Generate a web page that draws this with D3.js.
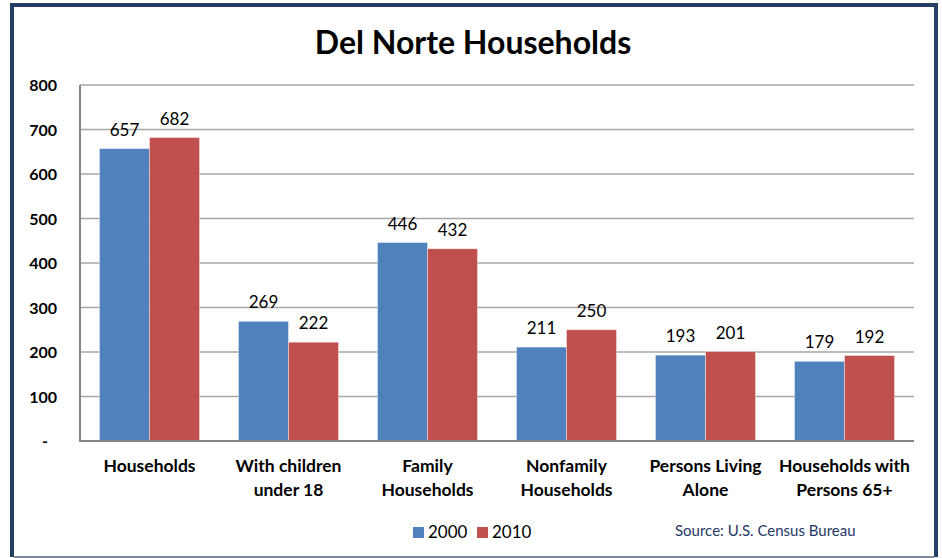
<!DOCTYPE html>
<html>
<head>
<meta charset="utf-8">
<script src="https://cdn.jsdelivr.net/npm/d3@7/dist/d3.min.js"></script>
<style>
  html, body { margin: 0; padding: 0; background: #fff; }
  svg { display: block; }
  text { font-family: Lato, "Open Sans", sans-serif; }
</style>
</head>
<body>
<svg id="chart" width="942" height="558"></svg>
<script>
const title = "Del Norte Households";
const categories = [
  ["Households"],
  ["With children", "under 18"],
  ["Family", "Households"],
  ["Nonfamily", "Households"],
  ["Persons Living", "Alone"],
  ["Households with", "Persons 65+"]
];
const seriesNames = ["2000", "2010"];
const values2000 = [657, 269, 446, 211, 193, 179];
const values2010 = [682, 222, 432, 250, 201, 192];
const yTicks = [0, 100, 200, 300, 400, 500, 600, 700, 800];
const source = "Source: U.S.  Census Bureau";

(function () {
const colors = ["#4f81bd", "#c0504d"];
const svg = d3.select("#chart");

// frame
svg.append("line").attr("x1", 12).attr("x2", 12).attr("y1", 3).attr("y2", 557)
  .attr("stroke", "#243f63").attr("stroke-width", 4);
svg.append("line").attr("x1", 10).attr("x2", 938).attr("y1", 5).attr("y2", 5)
  .attr("stroke", "#243f63").attr("stroke-width", 4);
svg.append("line").attr("x1", 936).attr("x2", 936).attr("y1", 3).attr("y2", 557)
  .attr("stroke", "#243f63").attr("stroke-width", 4);
svg.append("line").attr("x1", 14).attr("x2", 934).attr("y1", 557).attr("y2", 557)
  .attr("stroke", "#7f8a99").attr("stroke-width", 2);

const pLeft = 80, pRight = 914, pTop = 85, pBottom = 441;
const catIdx = categories.map((d, i) => i);
const x0 = d3.scaleBand().domain(catIdx).range([pLeft, pRight]).paddingInner(0.28).paddingOuter(0.14);
const x1 = d3.scaleBand().domain([0, 1]).range([0, x0.bandwidth()]);
const y = d3.scaleLinear().domain([0, 800]).range([pBottom, pTop]);

// gridlines
svg.append("g").selectAll("line").data(yTicks.filter(t => t > 0)).join("line")
  .attr("x1", pLeft).attr("x2", pRight)
  .attr("y1", d => y(d)).attr("y2", d => y(d))
  .attr("stroke", "#a6a6a6").attr("stroke-width", 1.5);

// bars
const data = catIdx.map(i => [values2000[i], values2010[i]]);
const groups = svg.append("g").selectAll("g").data(data).join("g")
  .attr("transform", (d, i) => `translate(${x0(i)},0)`);
groups.selectAll("rect").data(d => d.map((v, s) => ({ v, s }))).join("rect")
  .attr("x", d => x1(d.s))
  .attr("y", d => y(d.v))
  .attr("width", x1.bandwidth())
  .attr("height", d => pBottom - y(d.v))
  .attr("fill", d => colors[d.s])
  .attr("stroke", "#ffffff").attr("stroke-opacity", 0.5).attr("stroke-width", 0.8);
groups.selectAll("text").data(d => d.map((v, s) => ({ v, s }))).join("text")
  .attr("x", d => x1(d.s) + x1.bandwidth() / 2)
  .attr("y", d => y(d.v) - 13)
  .attr("text-anchor", "middle")
  .attr("font-size", 17)
  .attr("fill", "#000")
  .text(d => d.v);

// axes lines
svg.append("line").attr("x1", pLeft).attr("x2", pLeft).attr("y1", pTop).attr("y2", pBottom + 1)
  .attr("stroke", "#868686").attr("stroke-width", 2);
svg.append("line").attr("x1", pLeft - 1).attr("x2", pRight).attr("y1", pBottom).attr("y2", pBottom)
  .attr("stroke", "#868686").attr("stroke-width", 2);

// y tick labels
svg.append("g").selectAll("text").data(yTicks).join("text")
  .attr("x", d => d === 0 ? 45 : 57)
  .attr("y", d => y(d) + 6)
  .attr("text-anchor", d => d === 0 ? "middle" : "end")
  .attr("font-size", 16).attr("font-weight", "bold").attr("fill", "#000")
  .text(d => d === 0 ? "-" : d);

// category labels
const cl = svg.append("g").selectAll("text").data(categories).join("text")
  .attr("text-anchor", "middle")
  .attr("font-size", 17.5).attr("font-weight", "bold").attr("fill", "#000");
cl.each(function(lines, i) {
  d3.select(this).selectAll("tspan").data(lines).join("tspan")
    .attr("x", x0(i) + x0.bandwidth() / 2)
    .attr("y", (l, j) => 472 + j * 24)
    .text(l => l);
});

// title
svg.append("text").attr("x", 473).attr("y", 54).attr("text-anchor", "middle")
  .attr("font-size", 32).attr("font-weight", "bold").attr("fill", "#000").text(title);

// legend
const lg = svg.append("g").selectAll("g").data(seriesNames).join("g")
  .attr("transform", (d, i) => `translate(${413 + i * 64},527)`);
lg.append("rect").attr("width", 11).attr("height", 11).attr("fill", (d, i) => colors[i]);
lg.append("text").attr("x", 15).attr("y", 11).attr("font-size", 17).attr("fill", "#000").text(d => d);

// source
svg.append("text").attr("x", 675).attr("y", 536).attr("font-size", 15)
  .attr("fill", "#1f3864").text(source);
})();
</script>
</body>
</html>
